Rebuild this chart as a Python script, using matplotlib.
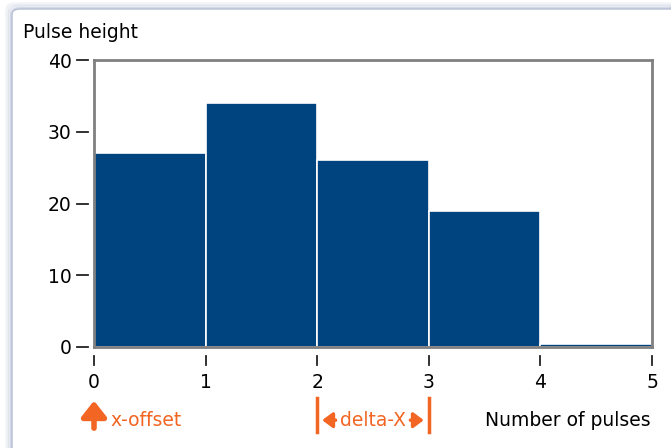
import matplotlib.pyplot as plt
from matplotlib.patches import FancyBboxPatch

# histogram bins (left edges), heights
bin_left = [0, 1, 2, 3, 4]
heights = [27, 34, 26, 19, 0.4]
x_ticks = [0, 1, 2, 3, 4, 5]
y_ticks = [0, 10, 20, 30, 40]

blue = '#00447f'
orange = '#f26522'
gray = '#808080'
fs = 13.5

plt.rcParams['font.family'] = 'DejaVu Sans'
fig = plt.figure(figsize=(6.71, 4.48), dpi=100)

# window frame with soft shadow
x0 = 12 / 671
top = 1 - 9 / 448
for i, a in enumerate([0.12, 0.22, 0.35]):
    d = (2 - i) * 2.5 / 671
    fig.patches.append(FancyBboxPatch((x0 - d, -0.05), 1.0, top + 0.05 + d * 671 / 448,
                                      boxstyle='round,pad=0,rounding_size=0.012',
                                      transform=fig.transFigure, fc='none',
                                      ec='#98a4c4', lw=2.5, alpha=a, zorder=-3))
fig.patches.append(FancyBboxPatch((x0, -0.05), 1.0, top + 0.05,
                                  boxstyle='round,pad=0,rounding_size=0.012',
                                  transform=fig.transFigure, fc='white',
                                  ec='#b5bdd4', lw=1.0, zorder=-2))

ax = fig.add_axes([94 / 671, 1 - 347 / 448, 558 / 671, 287 / 448])
ax.patch.set_alpha(0)
ax.bar(bin_left, heights, width=1, align='edge', color=blue,
       edgecolor='white', linewidth=1.2, zorder=2)
ax.set_xlim(0, 5)
ax.set_ylim(0, 40)
for s in ax.spines.values():
    s.set_color(gray)
    s.set_linewidth(2)
ax.set_xticks(x_ticks)
ax.set_yticks(y_ticks)
ax.tick_params(axis='y', length=0, pad=16, labelsize=fs)
ax.tick_params(axis='x', length=0, pad=19, labelsize=fs)
# detached tick marks outside the axes
for xt in x_ticks:
    ax.plot([xt, xt], [-1.2, -2.5], color='#222222', lw=1.3, clip_on=False)
for yt in y_ticks:
    ax.plot([-0.15, -0.055], [yt, yt], color='#222222', lw=1.3, clip_on=False)

fig.text(23 / 671, 1 - 32 / 448, 'Pulse height', fontsize=fs, va='center', ha='left')
fig.text(651 / 671, 1 - 420 / 448, 'Number of pulses', fontsize=fs, va='center', ha='right')

# x-offset annotation
ax.annotate('', xy=(0, -7.1), xytext=(0, -11.7), xycoords='data',
            arrowprops=dict(arrowstyle='-|>,head_width=0.75,head_length=0.95',
                            color=orange, lw=4), annotation_clip=False)
ax.text(0.15, -10.2, 'x-offset', color=orange, fontsize=fs, va='center', ha='left',
        clip_on=False)

# delta-X annotation
for xv in [2, 3]:
    ax.plot([xv, xv], [-7.1, -11.8], color=orange, lw=2.5, clip_on=False)
ax.annotate('', xy=(2.02, -10.2), xytext=(2.19, -10.2),
            arrowprops=dict(arrowstyle='-|>,head_width=0.45,head_length=0.6',
                            color=orange, lw=2.5), annotation_clip=False)
ax.annotate('', xy=(2.98, -10.2), xytext=(2.81, -10.2),
            arrowprops=dict(arrowstyle='-|>,head_width=0.45,head_length=0.6',
                            color=orange, lw=2.5), annotation_clip=False)
ax.text(2.5, -10.2, 'delta-X', color=orange, fontsize=fs, va='center', ha='center',
        clip_on=False)

fig.savefig('out.png', dpi=100)
